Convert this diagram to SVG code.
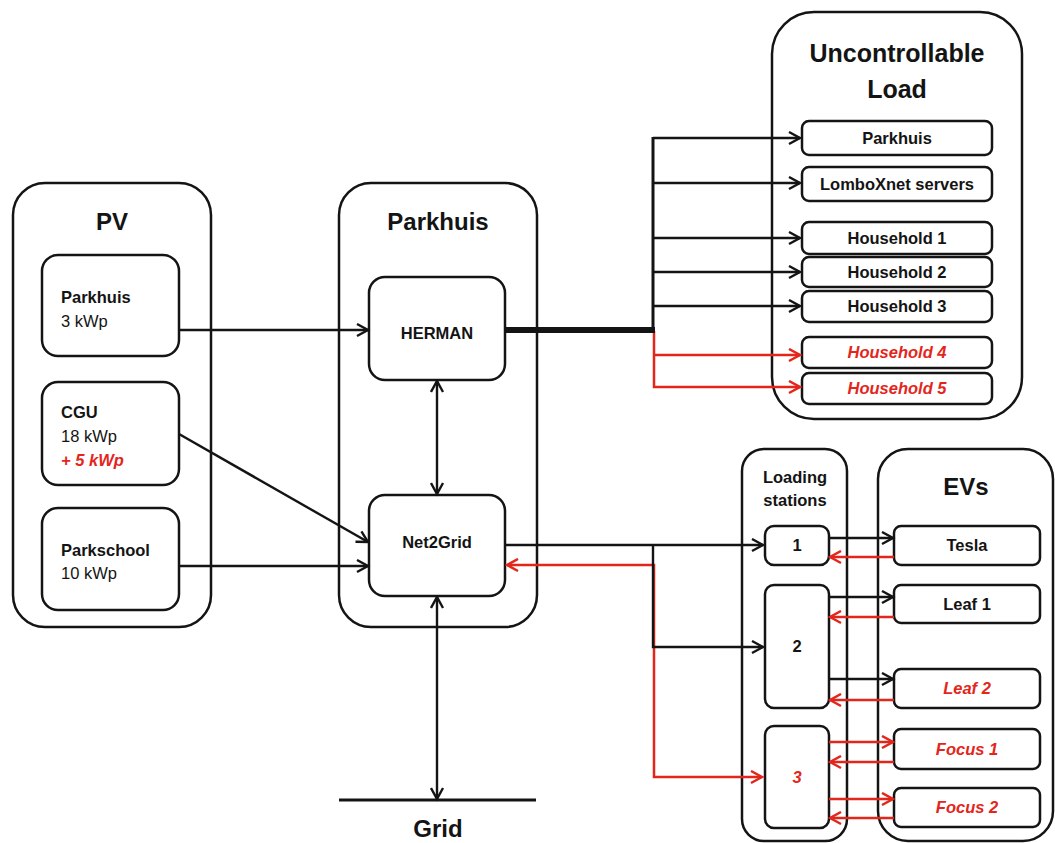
<svg xmlns="http://www.w3.org/2000/svg" width="1055" height="843" viewBox="0 0 1055 843">
<style>
text{font-family:"Liberation Sans",Arial,sans-serif;fill:#141414}
.t{font-size:24px;font-weight:bold;text-anchor:middle}
.s{font-size:16.5px;font-weight:bold}
.c{text-anchor:middle}
.r{font-size:16.5px}
.red{fill:#e3261b;font-style:italic;font-weight:bold}
.box{fill:#fff;stroke:#141414;stroke-width:2.5}
.cont{fill:none;stroke:#141414;stroke-width:2.5}
.k{fill:none;stroke:#141414;stroke-width:2.4}
.rd{fill:none;stroke:#e3261b;stroke-width:2.5}
</style>
<defs>
<marker id="ak" markerUnits="userSpaceOnUse" markerWidth="15" markerHeight="15" refX="11" refY="6" orient="auto-start-reverse" viewBox="-1.5 -1.5 15 15">
<path d="M0,0 L11,6 L0,12" fill="none" stroke="#141414" stroke-width="2.4"/>
</marker>
<marker id="ar" markerUnits="userSpaceOnUse" markerWidth="15" markerHeight="15" refX="11" refY="6" orient="auto-start-reverse" viewBox="-1.5 -1.5 15 15">
<path d="M0,0 L11,6 L0,12" fill="none" stroke="#e3261b" stroke-width="2.5"/>
</marker>
</defs>
<rect width="1055" height="843" fill="#fff"/>

<g id="pv">
<rect class="cont" x="13" y="183" width="198" height="444" rx="32"/>
<text class="t" x="112" y="230">PV</text>
</g>
<g id="pv-parkhuis">
<rect class="box" x="42" y="255" width="137" height="101" rx="16"/>
<text class="s" x="61" y="303">Parkhuis</text>
<text class="r" x="61" y="327">3 kWp</text>
</g>
<g id="pv-cgu">
<rect class="box" x="42" y="382" width="137" height="103" rx="16"/>
<text class="s" x="61" y="418">CGU</text>
<text class="r" x="61" y="442">18 kWp</text>
<text class="s red" x="61" y="466">+ 5 kWp</text>
</g>
<g id="pv-parkschool">
<rect class="box" x="42" y="508" width="137" height="102" rx="16"/>
<text class="s" x="61" y="556">Parkschool</text>
<text class="r" x="61" y="579">10 kWp</text>
</g>

<g id="parkhuis">
<rect class="cont" x="339" y="183" width="198" height="444" rx="32"/>
<text class="t" x="438" y="230">Parkhuis</text>
</g>
<g id="herman">
<rect class="box" x="369" y="277" width="136" height="103" rx="16"/>
<text class="s c" x="437" y="339">HERMAN</text>
</g>
<g id="net2grid">
<rect class="box" x="369" y="495" width="136" height="101" rx="16"/>
<text class="s c" x="437" y="548">Net2Grid</text>
</g>
<g id="grid">
<line x1="339" y1="800" x2="536" y2="800" stroke="#141414" stroke-width="3"/>
<text class="t" x="438" y="837">Grid</text>
</g>

<g id="uncontrollable-load">
<rect class="cont" x="772" y="12" width="250" height="407" rx="42"/>
<text class="t" x="897" y="62" style="font-size:25px">Uncontrollable</text>
<text class="t" x="897" y="98" style="font-size:25px">Load</text>
</g>
<g id="load-parkhuis"><rect class="box" x="802" y="121" width="190" height="34" rx="7"/><text class="s c" x="897" y="144">Parkhuis</text></g>
<g id="load-lomboxnet"><rect class="box" x="802" y="167" width="190" height="34" rx="7"/><text class="s c" x="897" y="190">LomboXnet servers</text></g>
<g id="household1"><rect class="box" x="802" y="222" width="190" height="32" rx="7"/><text class="s c" x="897" y="244">Household 1</text></g>
<g id="household2"><rect class="box" x="802" y="257" width="190" height="30" rx="7"/><text class="s c" x="897" y="278">Household 2</text></g>
<g id="household3"><rect class="box" x="802" y="291" width="190" height="31" rx="7"/><text class="s c" x="897" y="312">Household 3</text></g>
<g id="household4"><rect class="box" x="802" y="337" width="190" height="31" rx="7"/><text class="s c red" x="897" y="358">Household 4</text></g>
<g id="household5"><rect class="box" x="802" y="373" width="190" height="31" rx="7"/><text class="s c red" x="897" y="394">Household 5</text></g>

<g id="loading-stations">
<rect class="cont" x="742" y="449" width="105" height="392" rx="22"/>
<text class="s c" x="795" y="483">Loading</text>
<text class="s c" x="795" y="506">stations</text>
</g>
<g id="station1"><rect class="box" x="765" y="526" width="64" height="39" rx="9"/><text class="s c" x="797" y="551">1</text></g>
<g id="station2"><rect class="box" x="765" y="585" width="64" height="123" rx="9"/><text class="s c" x="797" y="652">2</text></g>
<g id="station3"><rect class="box" x="765" y="726" width="64" height="102" rx="9"/><text class="s c red" x="797" y="783">3</text></g>

<g id="evs">
<rect class="cont" x="878" y="449" width="175" height="392" rx="30"/>
<text class="t" x="966" y="495">EVs</text>
</g>
<g id="tesla"><rect class="box" x="894" y="526" width="146" height="39" rx="7"/><text class="s c" x="967" y="551">Tesla</text></g>
<g id="leaf1"><rect class="box" x="894" y="585" width="146" height="38" rx="7"/><text class="s c" x="967" y="610">Leaf 1</text></g>
<g id="leaf2"><rect class="box" x="894" y="669" width="146" height="39" rx="7"/><text class="s c red" x="967" y="694">Leaf 2</text></g>
<g id="focus1"><rect class="box" x="894" y="729" width="146" height="40" rx="7"/><text class="s c red" x="967" y="755">Focus 1</text></g>
<g id="focus2"><rect class="box" x="894" y="788" width="146" height="39" rx="7"/><text class="s c red" x="967" y="813">Focus 2</text></g>

<g id="connectors">
<path class="k" d="M179,330 H368" marker-end="url(#ak)"/>
<path class="k" d="M179,434 L368,542" marker-end="url(#ak)"/>
<path class="k" d="M179,566 H368" marker-end="url(#ak)"/>
<path class="k" d="M437,381 V494" marker-start="url(#ak)" marker-end="url(#ak)"/>
<path class="k" d="M437,597 V799" marker-start="url(#ak)" marker-end="url(#ak)"/>

<path class="rd" d="M654,331 V387 H800" marker-end="url(#ar)"/>
<path class="rd" d="M654,355 H800" marker-end="url(#ar)"/>
<path d="M505,330 H655" fill="none" stroke="#141414" stroke-width="6"/>
<path fill="none" stroke="#141414" stroke-width="3" d="M653,332 V137"/>
<path class="k" d="M653,138 H800" marker-end="url(#ak)"/>
<path class="k" d="M653,183 H800" marker-end="url(#ak)"/>
<path class="k" d="M653,238 H800" marker-end="url(#ak)"/>
<path class="k" d="M653,272 H800" marker-end="url(#ak)"/>
<path class="k" d="M653,306 H800" marker-end="url(#ak)"/>

<path class="rd" d="M762,777 H654 V565 H507" marker-start="url(#ar)" marker-end="url(#ar)"/>
<path class="k" d="M505,545 H763" stroke-width="3" marker-end="url(#ak)"/>
<path class="k" d="M653,545 V647 H763" marker-end="url(#ak)"/>

<path class="k" d="M829,538 H893" marker-end="url(#ak)"/>
<path class="rd" d="M894,557 H830" marker-end="url(#ar)"/>
<path class="k" d="M829,597 H893" marker-end="url(#ak)"/>
<path class="rd" d="M894,617 H830" marker-end="url(#ar)"/>
<path class="k" d="M829,679 H893" marker-end="url(#ak)"/>
<path class="rd" d="M894,700 H830" marker-end="url(#ar)"/>
<path class="rd" d="M829,742 H893" marker-end="url(#ar)"/>
<path class="rd" d="M894,762 H830" marker-end="url(#ar)"/>
<path class="rd" d="M829,799 H893" marker-end="url(#ar)"/>
<path class="rd" d="M894,818 H830" marker-end="url(#ar)"/>
</g>
</svg>
